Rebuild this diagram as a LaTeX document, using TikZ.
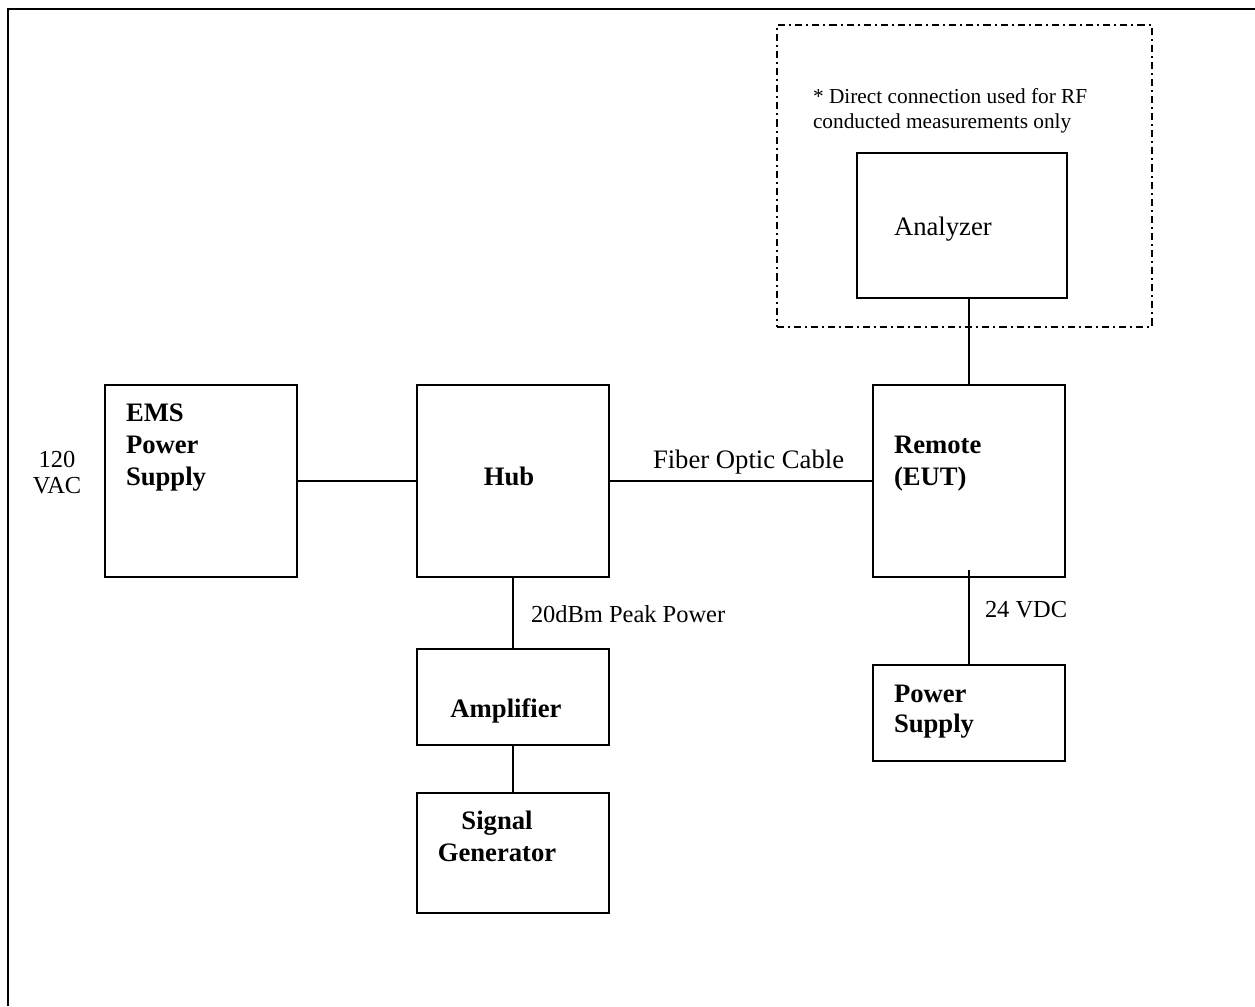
\documentclass[tikz,border=0pt]{standalone}
\usepackage{fontspec}
\setmainfont{Liberation Serif}
\usepackage{tikz}
\usetikzlibrary{positioning, calc}

\begin{document}
\begin{tikzpicture}[x=0.45pt, y=-0.45pt, line width=0.9pt,
     box/.style={draw, rectangle, inner sep=0pt, fill=none},
     boxlabel/.style={font=\bfseries\fontsize{12}{14.2}\selectfont, inner sep=0pt, align=left, anchor=base west},
     linelabel/.style={font=\fontsize{11}{12}\selectfont, inner sep=0pt, anchor=base west},
     region/.style={draw, rectangle, inner sep=0pt, dash pattern=on 3.2pt off 1.8pt on 0.9pt off 1.8pt}]

  \useasboundingbox (0,0) rectangle (1255,1006);

  % page frame
  \draw (8,1006) -- (8,9) -- (1255,9);

  % dashed area for the direct connection
  \node[region, minimum width=168.75pt, minimum height=135.9pt] (direct) at (964.5,176) {};
  \node[font=\fontsize{9.6}{11.25}\selectfont, inner sep=0pt, align=left, anchor=base west] (note) at (812,128)
    {* Direct connection used for RF\\conducted measurements only};

  % boxes
  \node[box, minimum width=94.5pt, minimum height=65.25pt] (analyzer) at (962,225.5) {};
  \node[box, minimum width=86.4pt, minimum height=86.4pt] (ems) at (201,481) {};
  \node[box, minimum width=86.4pt, minimum height=86.4pt] (hub) at (513,481) {};
  \node[box, minimum width=86.4pt, minimum height=86.4pt] (remote) at (969,481) {};
  \node[box, minimum width=86.4pt, minimum height=43.2pt] (amp) at (513,697) {};
  \node[box, minimum width=86.4pt, minimum height=54pt] (siggen) at (513,853) {};
  \node[box, minimum width=86.4pt, minimum height=43.2pt] (psu) at (969,713) {};

  % box texts (base = last line)
  \node[linelabel, font=\fontsize{12}{14}\selectfont] (analyzertext) at (893,235) {Analyzer};
  \node[boxlabel] (emstext) at (125,485) {EMS\\Power\\Supply};
  \node[boxlabel, anchor=base] (hubtext) at (509,485) {Hub};
  \node[boxlabel] (remotetext) at (893,485) {Remote\\(EUT)};
  \node[boxlabel, anchor=base] (amptext) at (506,717) {Amplifier};
  \node[boxlabel, align=center, anchor=base, font=\bfseries\fontsize{12}{14}\selectfont] (sigtext) at (497,861) {Signal\\Generator};
  \node[boxlabel, font=\bfseries\fontsize{12}{13.5}\selectfont] (psutext) at (893,732) {Power\\Supply};

  % line texts
  \node[linelabel, align=center, anchor=base, font=\fontsize{11}{11.7}\selectfont] (vac) at (57,493) {120\\VAC};
  \node[linelabel, font=\fontsize{12}{14}\selectfont] (fiber) at (652,468) {Fiber Optic Cable};
  \node[linelabel] (peak) at (530,622) {20dBm Peak Power};
  \node[linelabel] (vdc) at (984,617) {24 VDC};

  % connections
  \path
   (ems.east) edge (hub.west)
   (hub.east) edge (remote.west)
   (hub.south) edge (amp.north)
   (amp.south) edge (siggen.north)
   (remote.north) edge (remote.north |- analyzer.south)
   ([yshift=3.6pt]remote.south) edge (psu.north);
\end{tikzpicture}
\end{document}
